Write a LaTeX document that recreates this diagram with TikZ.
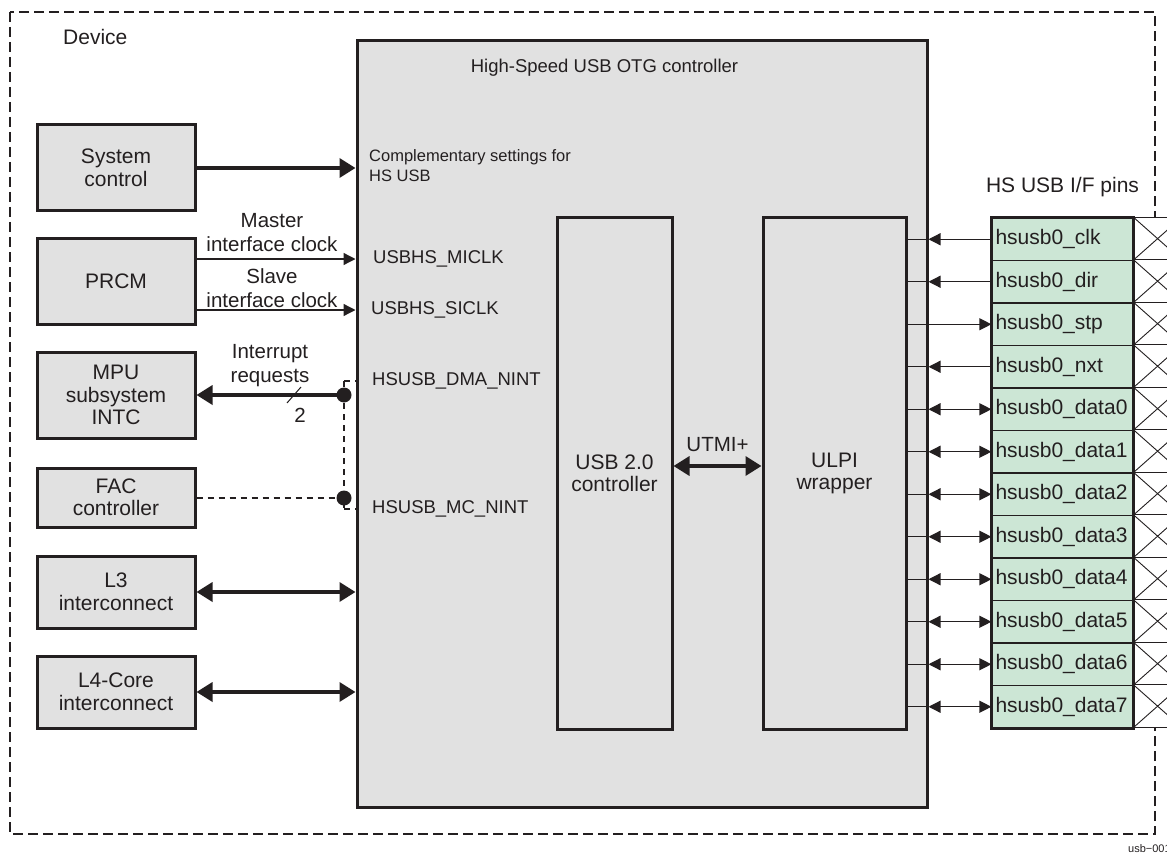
\documentclass[tikz,border=0pt]{standalone}
\usepackage{fontspec}
\setmainfont{Liberation Sans}
\usetikzlibrary{arrows.meta,positioning,calc}
\definecolor{boxgray}{RGB}{225,225,225}
\definecolor{pingreen}{RGB}{204,230,213}
\definecolor{ink}{RGB}{35,31,32}
\tikzset{
  blk/.style={draw=ink,line width=3pt,fill=boxgray,align=center,minimum width=158pt},
  pinrow/.style={draw=ink,line width=1.2pt,fill=pingreen,minimum width=141pt,minimum height=42.5pt,
                 text width=134pt,inner xsep=3.5pt,inner ysep=0pt,align=left},
  sig/.style={-{Triangle[length=12pt,width=12pt]},line width=1.3pt,ink},
  bus/.style={-{Triangle[length=16pt,width=19pt]},line width=3.5pt,ink},
  bibus/.style={{Triangle[length=16pt,width=19pt]}-{Triangle[length=16pt,width=19pt]},line width=3.5pt,ink},
  pinin/.style={{Triangle[length=12pt,width=12pt]}-,line width=1.3pt,ink},
  pinout/.style={-{Triangle[length=12pt,width=12pt]},line width=1.3pt,ink},
  pinbi/.style={{Triangle[length=12pt,width=12pt]}-{Triangle[length=12pt,width=12pt]},line width=1.3pt,ink},
  irq/.style={dash pattern=on 6pt off 5pt,line width=1.2pt,ink},
  lbl/.style={inner sep=0pt,align=center,font=\fontsize{20.5}{24}\selectfont},
  port/.style={anchor=west,inner sep=0pt,font=\fontsize{18.5}{21}\selectfont}
}

\begin{document}
\begin{tikzpicture}[x=1pt,y=-1pt,every node/.style={font=\fontsize{21}{22.5}\selectfont,text=ink}]
  \useasboundingbox (0,0) rectangle (1167,861);
  % device boundary
  \draw[ink,line width=2.8pt,dash pattern=on 10pt off 5pt] (10,12) rectangle (1155,834);
  \node[anchor=base west,inner sep=0pt] (dev) at (63,45) {Device};
  % blocks on the left
  \node[blk,minimum height=86pt] (sysctl) at (116,168) {System\\control};
  \node[blk,minimum height=86pt] (prcm) at (116,281) {PRCM};
  \node[blk,minimum height=86pt] (mpu) at (116,395) {MPU\\subsystem\\INTC};
  \node[blk,minimum height=59pt] (fac) at (116,497.5) {FAC\\controller};
  \node[blk,minimum height=72pt] (lthree) at (116,592) {L3\\interconnect};
  \node[blk,minimum height=72pt] (lfour) at (116,692) {L4-Core\\interconnect};
  % HS USB OTG controller with its two sub-blocks
  \node[blk,minimum width=570pt,minimum height=766pt] (otg) at (642,424) {};
  \node[anchor=base,inner sep=0pt,font=\fontsize{18.5}{21}\selectfont] (title) at (604.5,73) {High-Speed USB OTG controller};
  \node[blk,minimum width=115pt,minimum height=511pt] (usbctl) at (614.5,473.5) {USB 2.0\\controller};
  \node[blk,minimum width=143pt,minimum height=511pt] (ulpi) at (834.5,473.5) {ULPI\\wrapper};
  \draw[bibus] ($(usbctl.east)+(0,-7.5)$) -- ($(ulpi.west)+(0,-7.5)$)
        node[midway,above=13pt,inner sep=0pt,font=\fontsize{20.5}{22}\selectfont] (utmi) {UTMI+};
  % port names inside the controller
  \node[anchor=north west,inner sep=0pt,align=left,font=\fontsize{16.5}{20}\selectfont] (compl) at (369,149)
        {Complementary settings for\\HS USB};
  \node[port] (miclk) at (373,259) {USBHS\_MICLK};
  \node[port] (siclk) at (371,310) {USBHS\_SICLK};
  \node[port] (dmaint) at (372,381) {HSUSB\_DMA\_NINT};
  \node[port] (mcint) at (372,509) {HSUSB\_MC\_NINT};
  % system control, clocks, interconnects
  \draw[bus] (sysctl.east) -- (sysctl.east -| otg.west);
  \draw[sig] (prcm.east |- miclk) -- (otg.west |- miclk);
  \draw[sig] (prcm.east |- siclk) -- (otg.west |- siclk);
  \node[lbl,anchor=north] (mlbl) at (272,213) {Master\\interface clock};
  \node[lbl,anchor=north] (slbl) at (272,268) {Slave\\interface clock};
  \draw[bibus] (lthree.east) -- (lthree.east -| otg.west);
  \draw[bibus] (lfour.east) -- (lfour.east -| otg.west);
  % interrupt lines
  \coordinate (dmadot) at (344,395);
  \coordinate (mcdot) at (344,498);
  \draw[bus] (dmadot) -- (dmadot -| mpu.east);
  \draw[irq] (fac.east |- mcdot) -- (mcdot);
  \draw[irq] (dmadot |- dmaint) -- (dmadot |- mcint);
  \draw[irq] (dmadot |- dmaint) -- (otg.west |- dmaint);
  \draw[irq] (dmadot |- mcint) -- (otg.west |- mcint);
  \fill[ink] (dmadot) circle[radius=7.5pt];
  \fill[ink] (mcdot) circle[radius=7.5pt];
  \node[lbl,anchor=north] (ilbl) at (270,344) {Interrupt\\requests};
  \draw[ink,line width=1pt] ($(dmadot)+(-57,8)$) -- ($(dmadot)+(-43,-8)$);
  \node[inner sep=0pt,font=\fontsize{20.5}{22}\selectfont] (nbus) at (300,415) {2};
  % HS USB interface pins
  \node[anchor=base,inner sep=0pt] (pinhdr) at (1062.5,193) {HS USB I/F pins};
  \foreach \nm/\way [count=\i from 0] in {clk/pinin,dir/pinin,stp/pinout,nxt/pinin,
      data0/pinbi,data1/pinbi,data2/pinbi,data3/pinbi,data4/pinbi,data5/pinbi,data6/pinbi,data7/pinbi} {
    \node[pinrow] (pin\i) at (1062.5,{239.25+42.5*\i}) {hsusb0\_\nm};
    \draw[ink,line width=1.2pt] (ulpi.east |- pin\i) -- (otg.east |- pin\i);
    \draw[\way] (otg.east |- pin\i) -- (pin\i.west);
    \draw[ink,line width=0.9pt,fill=white] (pin\i.north east) rectangle ++(48,42.5);
    \draw[ink,line width=0.9pt] (pin\i.north east) -- ++(48,42.5)
         ($(pin\i.north east)+(0,42.5)$) -- ++(48,-42.5);
  }
  \draw[ink,line width=2.2pt] (pin0.north west) rectangle (pin11.south east);
  \node[anchor=base west,inner sep=0pt,font=\fontsize{11}{13}\selectfont] (figid) at (1128,852) {usb−001};
\end{tikzpicture}
\end{document}
